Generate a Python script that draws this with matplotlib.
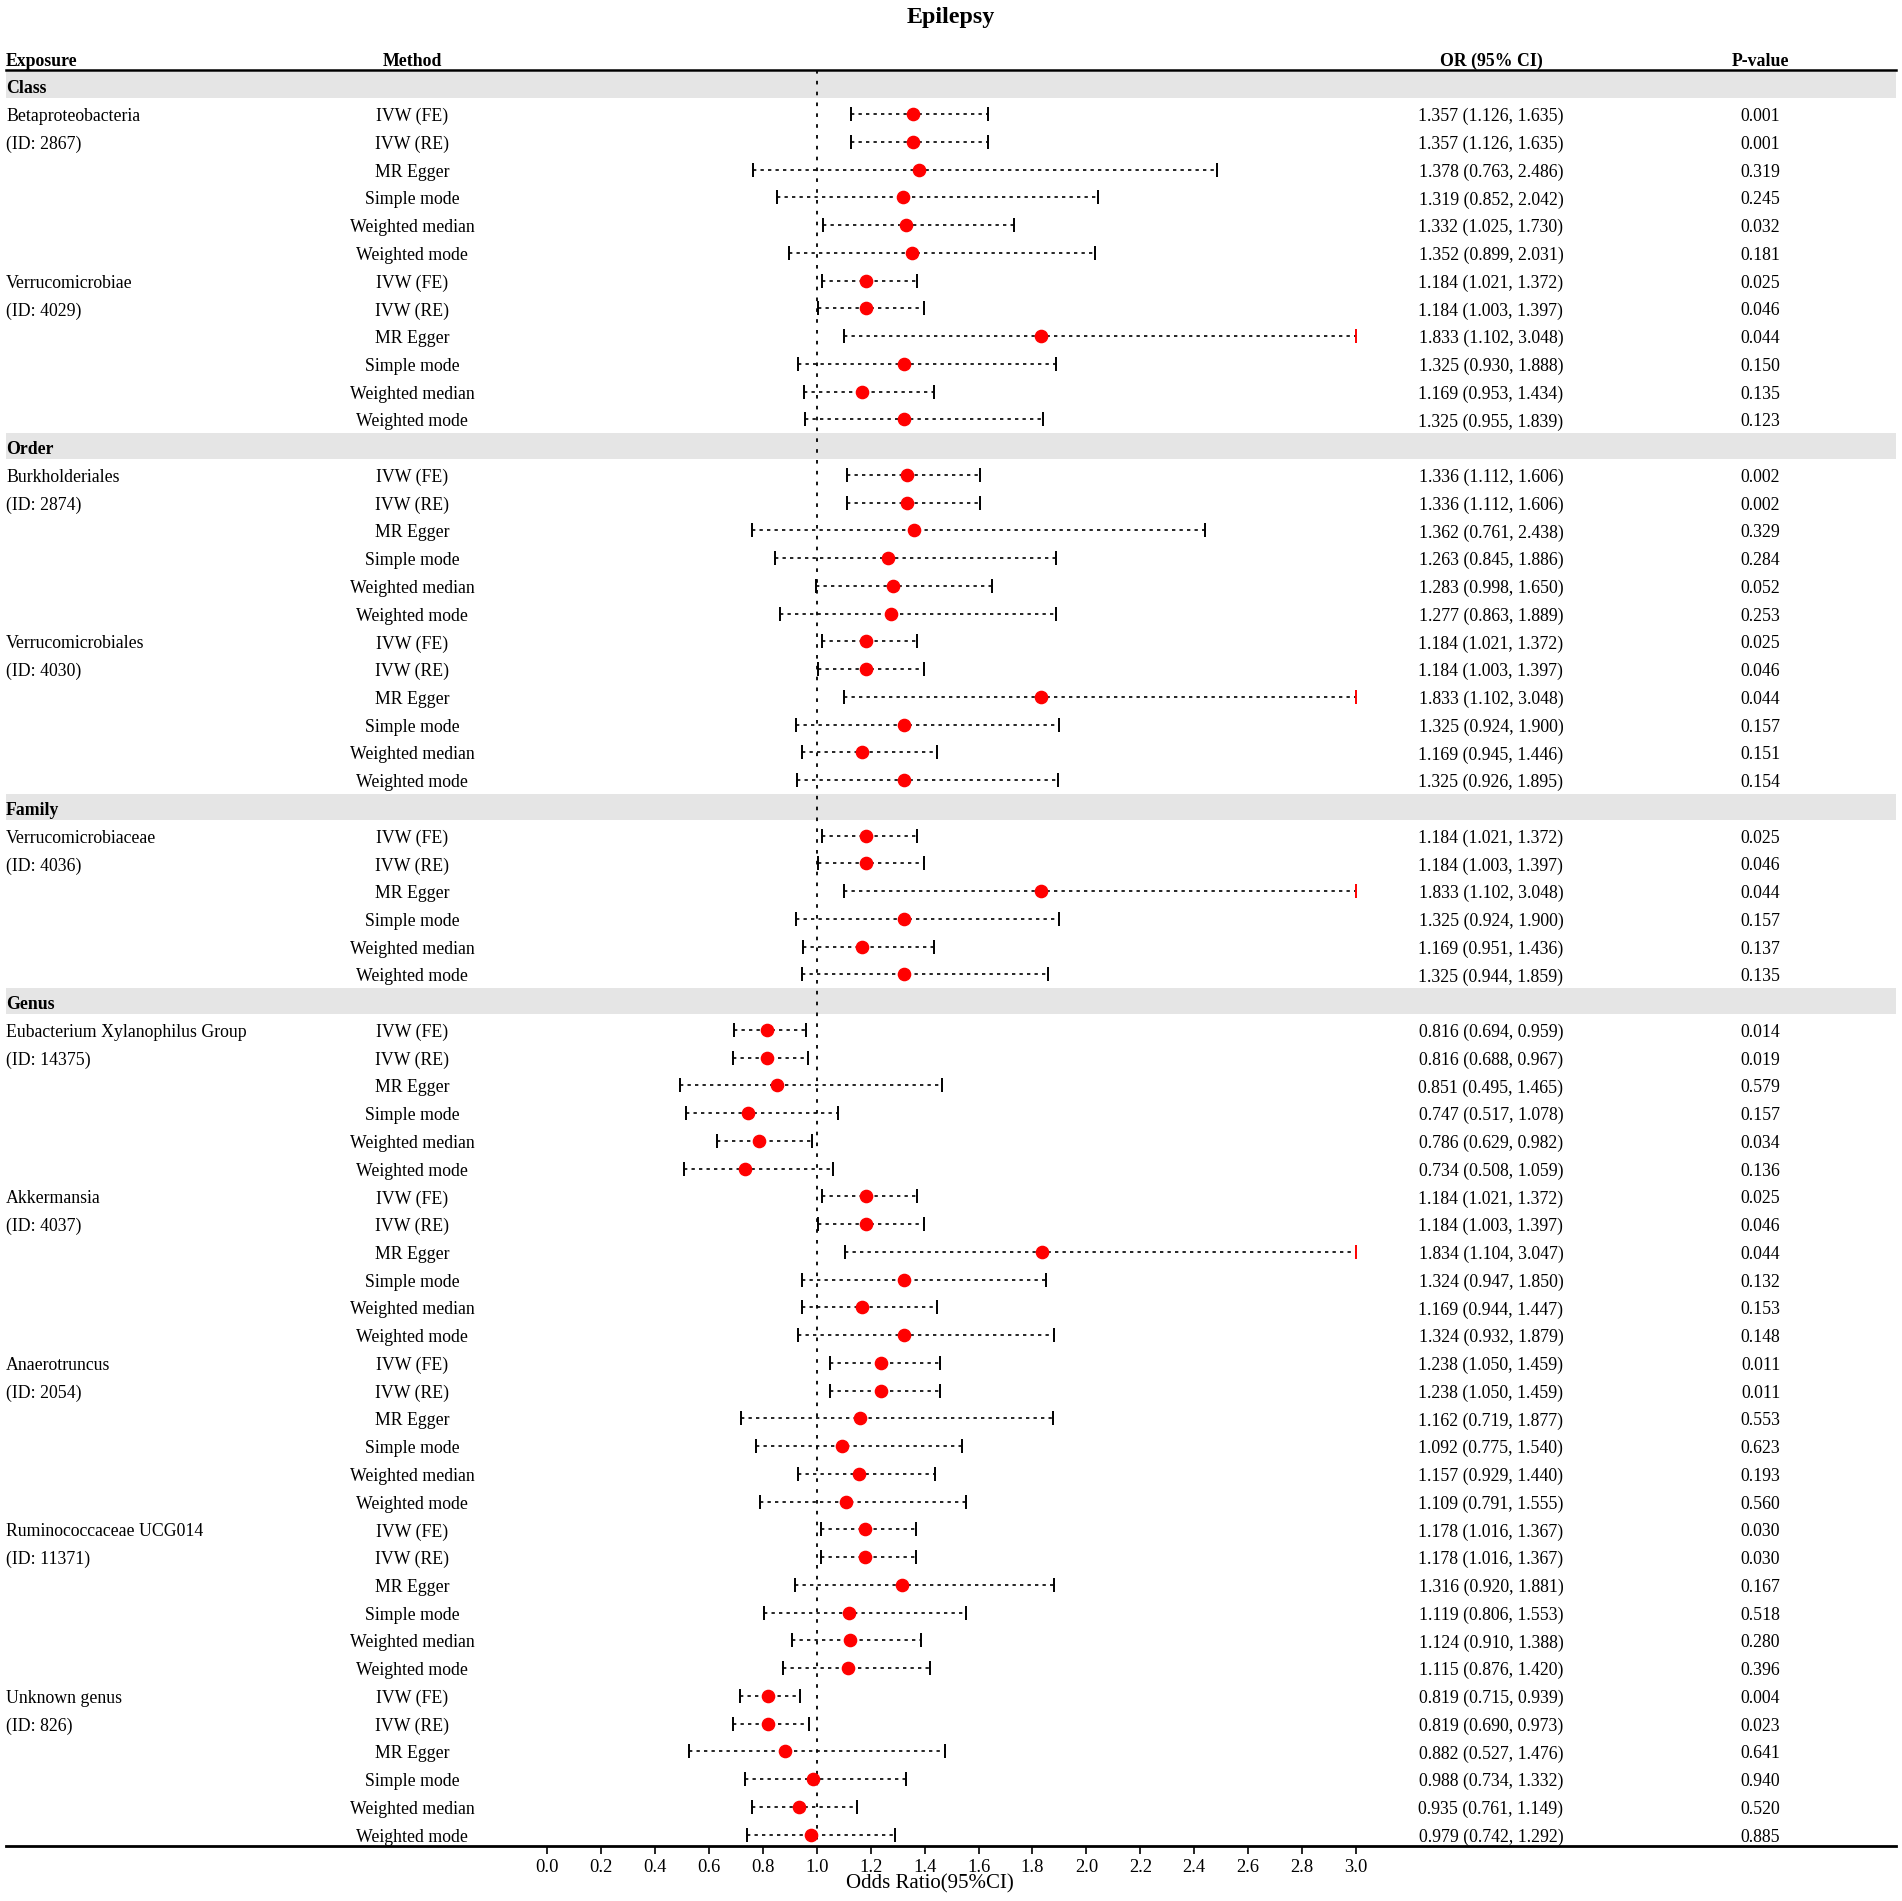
import matplotlib
matplotlib.use("Agg")
import matplotlib.pyplot as plt

plt.rcParams['font.family'] = ['Liberation Serif', 'DejaVu Serif']

title = "Epilepsy"
methods = ["IVW (FE)", "IVW (RE)", "MR Egger", "Simple mode", "Weighted median", "Weighted mode"]

groups = ["Class", "Order", "Family", "Genus"]
exposures = {
    "Class": [("Betaproteobacteria", "(ID: 2867)"), ("Verrucomicrobiae", "(ID: 4029)")],
    "Order": [("Burkholderiales", "(ID: 2874)"), ("Verrucomicrobiales", "(ID: 4030)")],
    "Family": [("Verrucomicrobiaceae", "(ID: 4036)")],
    "Genus": [("Eubacterium Xylanophilus Group", "(ID: 14375)"), ("Akkermansia", "(ID: 4037)"),
              ("Anaerotruncus", "(ID: 2054)"), ("Ruminococcaceae UCG014", "(ID: 11371)"),
              ("Unknown genus", "(ID: 826)")],
}

or_vals = [
    1.357, 1.357, 1.378, 1.319, 1.332, 1.352,
    1.184, 1.184, 1.833, 1.325, 1.169, 1.325,
    1.336, 1.336, 1.362, 1.263, 1.283, 1.277,
    1.184, 1.184, 1.833, 1.325, 1.169, 1.325,
    1.184, 1.184, 1.833, 1.325, 1.169, 1.325,
    0.816, 0.816, 0.851, 0.747, 0.786, 0.734,
    1.184, 1.184, 1.834, 1.324, 1.169, 1.324,
    1.238, 1.238, 1.162, 1.092, 1.157, 1.109,
    1.178, 1.178, 1.316, 1.119, 1.124, 1.115,
    0.819, 0.819, 0.882, 0.988, 0.935, 0.979,
]
lo_vals = [
    1.126, 1.126, 0.763, 0.852, 1.025, 0.899,
    1.021, 1.003, 1.102, 0.930, 0.953, 0.955,
    1.112, 1.112, 0.761, 0.845, 0.998, 0.863,
    1.021, 1.003, 1.102, 0.924, 0.945, 0.926,
    1.021, 1.003, 1.102, 0.924, 0.951, 0.944,
    0.694, 0.688, 0.495, 0.517, 0.629, 0.508,
    1.021, 1.003, 1.104, 0.947, 0.944, 0.932,
    1.050, 1.050, 0.719, 0.775, 0.929, 0.791,
    1.016, 1.016, 0.920, 0.806, 0.910, 0.876,
    0.715, 0.690, 0.527, 0.734, 0.761, 0.742,
]
hi_vals = [
    1.635, 1.635, 2.486, 2.042, 1.730, 2.031,
    1.372, 1.397, 3.048, 1.888, 1.434, 1.839,
    1.606, 1.606, 2.438, 1.886, 1.650, 1.889,
    1.372, 1.397, 3.048, 1.900, 1.446, 1.895,
    1.372, 1.397, 3.048, 1.900, 1.436, 1.859,
    0.959, 0.967, 1.465, 1.078, 0.982, 1.059,
    1.372, 1.397, 3.047, 1.850, 1.447, 1.879,
    1.459, 1.459, 1.877, 1.540, 1.440, 1.555,
    1.367, 1.367, 1.881, 1.553, 1.388, 1.420,
    0.939, 0.973, 1.476, 1.332, 1.149, 1.292,
]
p_vals = [
    "0.001", "0.001", "0.319", "0.245", "0.032", "0.181",
    "0.025", "0.046", "0.044", "0.150", "0.135", "0.123",
    "0.002", "0.002", "0.329", "0.284", "0.052", "0.253",
    "0.025", "0.046", "0.044", "0.157", "0.151", "0.154",
    "0.025", "0.046", "0.044", "0.157", "0.137", "0.135",
    "0.014", "0.019", "0.579", "0.157", "0.034", "0.136",
    "0.025", "0.046", "0.044", "0.132", "0.153", "0.148",
    "0.011", "0.011", "0.553", "0.623", "0.193", "0.560",
    "0.030", "0.030", "0.167", "0.518", "0.280", "0.396",
    "0.004", "0.023", "0.641", "0.940", "0.520", "0.885",
]
xticks = [0.0, 0.2, 0.4, 0.6, 0.8, 1.0, 1.2, 1.4, 1.6, 1.8, 2.0, 2.2, 2.4, 2.6, 2.8, 3.0]
x_max = 3.0

FS = 12.8
fig = plt.figure(figsize=(19.02, 19.01), dpi=100)
H = 1901.0
W = 1902.0
ax = fig.add_axes([6 / W, 1 - 1846 / H, 1890 / W, (1846 - 70) / H])
ax.set_xlim(-2.006, 5.002)
ax.set_ylim(63.35, -0.65)

# build row layout
rows = []
y = 0
k = 0
for g in groups:
    rows.append(("group", y, g))
    y += 1
    for name, idstr in exposures[g]:
        for mi, m in enumerate(methods):
            rows.append(("data", y, (name if mi == 0 else (idstr if mi == 1 else ""), m, k)))
            y += 1
            k += 1

for typ, yy, payload in rows:
    if typ == "group":
        ax.axhspan(yy + 0.37, yy - 0.57, xmin=0, xmax=1, color="#e5e5e5", lw=0, zorder=0)
        ax.text(-2.006, yy + 0.03, payload, fontsize=FS, fontweight="bold", va="center", ha="left")
    else:
        label, m, i = payload
        ty = yy + 0.03
        if label:
            ax.text(-2.006, ty, label, fontsize=FS, va="center", ha="left")
        ax.text(-0.5, ty, m, fontsize=FS, va="center", ha="center")
        ax.text(3.5, ty, f"{or_vals[i]:.3f} ({lo_vals[i]:.3f}, {hi_vals[i]:.3f})",
                fontsize=FS, va="center", ha="center")
        ax.text(4.5, ty, p_vals[i], fontsize=FS, va="center", ha="center")
        lo = lo_vals[i]
        hi = min(hi_vals[i], x_max)
        dy = yy - 0.06
        ax.plot([lo, hi], [dy, dy], color="black", lw=1.2, ls=(0, (2, 2.5)), zorder=2)
        ax.plot([lo], [dy], marker="|", color="black", ms=9.5, mew=1.4, zorder=3)
        cap_col = "red" if hi_vals[i] > x_max else "black"
        ax.plot([hi], [dy], marker="|", color=cap_col, ms=9.5, mew=1.4, zorder=3)
        ax.plot([or_vals[i]], [dy], marker="o", color="red", ms=8.8, mec="red", zorder=4)

# reference line
ax.plot([1, 1], [-0.65, 63.35], color="black", lw=1.3, ls=(0, (2, 4)), zorder=1)

# headers
hy = -0.95
for x, s, ha in [(-2.006, "Exposure", "left"), (-0.5, "Method", "center"),
                 (3.5, "OR (95% CI)", "center"), (4.5, "P-value", "center")]:
    ax.text(x, hy, s, fontsize=FS, fontweight="bold", va="center", ha=ha, clip_on=False)

fig.text(951 / W, 1 - 18 / H, title, fontsize=17.3, fontweight="bold", ha="center", va="center")

for side in ["left", "right"]:
    ax.spines[side].set_visible(False)
ax.spines["top"].set_linewidth(1.8)
ax.spines["bottom"].set_linewidth(2.0)
ax.set_yticks([])
ax.set_xticks(xticks)
ax.set_xticklabels([f"{t:.1f}" for t in xticks], fontsize=13.3)
ax.tick_params(axis="x", direction="out", length=6, width=1.2, pad=3)
fig.text((547 + 1.42 * 269.67) / W, 1 - 1884 / H, "Odds Ratio(95%CI)", fontsize=15, ha="center", va="center")

fig.savefig("out.png", dpi=100, facecolor="white")
